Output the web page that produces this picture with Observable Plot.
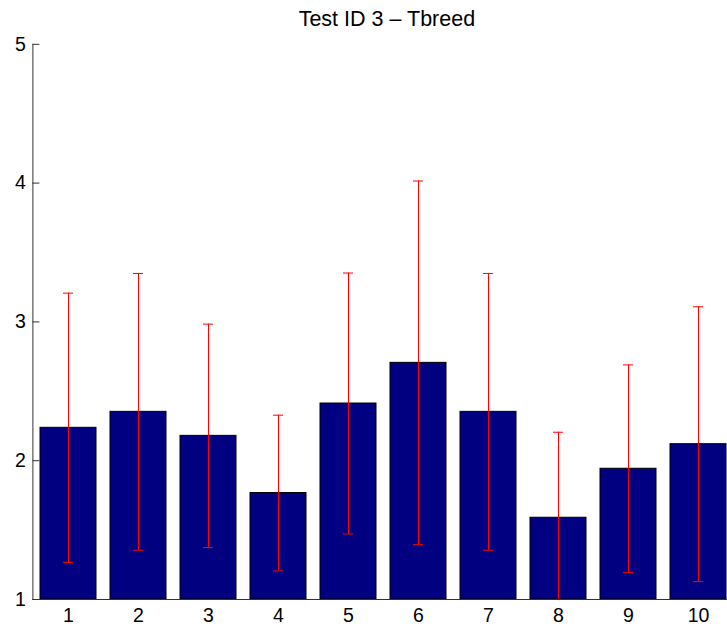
<!DOCTYPE html>
<html>
<head>
<meta charset="utf-8">
<script src="https://cdn.jsdelivr.net/npm/d3@7"></script>
<script src="https://cdn.jsdelivr.net/npm/@observablehq/plot@0.6"></script>
<style>
  html, body { margin: 0; padding: 0; background: #fff; }
  svg { display: block; }
</style>
</head>
<body>
<div id="chart"></div>
<script>
const title = "Test ID 3 \u2013 Tbreed";
const categories = [1, 2, 3, 4, 5, 6, 7, 8, 9, 10];
const means = [2.237, 2.352, 2.179, 1.767, 2.412, 2.705, 2.352, 1.589, 1.942, 2.119];
const errors = [0.970, 0.997, 0.805, 0.561, 0.940, 1.310, 0.997, 0.616, 0.748, 0.990];
const yTicks = [1, 2, 3, 4, 5];

const data = categories.map((c, i) => ({
  cat: c,
  mean: means[i],
  lo: means[i] - errors[i],
  hi: means[i] + errors[i]
}));

const plot = Plot.plot({
  width: 727,
  height: 632,
  marginLeft: 32.4,
  marginRight: -7.4,
  marginTop: 43.8,
  marginBottom: 33,
  style: { fontFamily: "Liberation Sans, Arial, Helvetica, sans-serif", fontSize: "19.5px", background: "#fff" },
  x: { type: "band", domain: categories, paddingInner: 0.2, paddingOuter: 0.1, label: null },
  y: { domain: [1, 5], label: null },
  marks: [
    Plot.barY(data, { x: "cat", y1: 1, y2: "mean", fill: "#000080", stroke: "#000", strokeWidth: 1 }),
    Plot.ruleX(data, { x: "cat", y1: "lo", y2: "hi", stroke: "#ff0000", strokeWidth: 1, clip: true }),
    Plot.tickY(data, { x: "cat", y: "hi", stroke: "#ff0000", strokeWidth: 1, inset: 23, clip: true }),
    Plot.tickY(data, { x: "cat", y: "lo", stroke: "#ff0000", strokeWidth: 1, inset: 23, clip: true }),
    Plot.frame({ anchor: "left", stroke: "#333" }),
    Plot.frame({ anchor: "bottom", stroke: "#333" }),
    Plot.axisY({ ticks: yTicks, tickFormat: d3.format("d"), tickSize: -7, tickPadding: 14, stroke: "#333", fill: "#000", fontSize: 19.5 }),
    Plot.axisX({ tickSize: 0, tickPadding: 9, fill: "#000", fontSize: 19.5 }),
    Plot.text([title], { frameAnchor: "top", dx: 3, dy: -25, text: d => d, fill: "#000", fontSize: 21.5, lineAnchor: "middle" })
  ]
});
document.getElementById("chart").appendChild(plot);
</script>
</body>
</html>
